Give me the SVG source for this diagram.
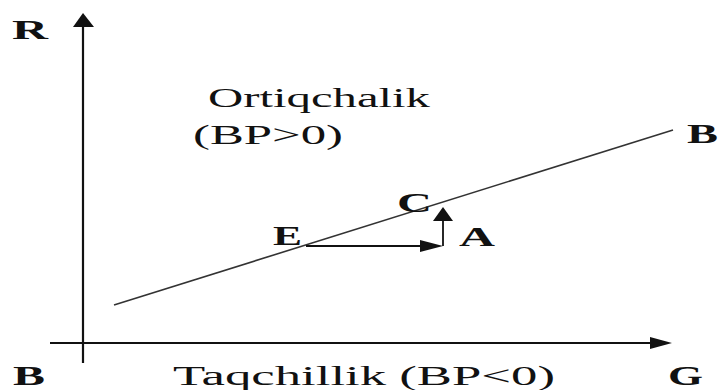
<svg xmlns="http://www.w3.org/2000/svg" width="720" height="390" viewBox="0 0 720 390">
<style>
.lbl{font-family:"Liberation Serif","Times New Roman",serif;font-size:28px;fill:#111}
.b{font-weight:bold}
.ax{stroke:#111;stroke-width:2.2;fill:none}
.ln{stroke:#333;stroke-width:1.6;fill:none}
.ar{stroke:#111;stroke-width:1.8;fill:none}
.hd{fill:#111}
</style>
<rect width="720" height="390" fill="#fff"/>
<g id="connectors">
  <line class="ax" x1="83" y1="363" x2="83" y2="26"/>
  <polygon class="hd" points="83,13 73,27 94,27"/>
  <line class="ax" x1="50" y1="343" x2="652" y2="343"/>
  <polygon class="hd" points="672,343 650,337 650,349"/>
  <line class="ln" x1="114" y1="305" x2="673" y2="130"/>
  <line class="ar" x1="306" y1="246" x2="424" y2="246"/>
  <polygon class="hd" points="443,246 420,240 420,252"/>
  <line class="ar" x1="443" y1="246" x2="443" y2="220"/>
  <polygon class="hd" points="443,207 433,221 453,221"/>
</g>
<g id="label-R"><text class="lbl b" x="12" y="39" textLength="36" lengthAdjust="spacingAndGlyphs">R</text></g>
<g id="label-ortiqchalik">
  <text class="lbl" x="208" y="107" textLength="222" lengthAdjust="spacingAndGlyphs">Ortiqchalik</text>
  <text class="lbl" x="193" y="144" textLength="150" lengthAdjust="spacingAndGlyphs">(BP&gt;0)</text>
</g>
<g id="label-B-line"><text class="lbl b" x="687" y="143" textLength="31" lengthAdjust="spacingAndGlyphs">B</text></g>
<g id="label-E"><text class="lbl b" x="273" y="245" textLength="29" lengthAdjust="spacingAndGlyphs">E</text></g>
<g id="label-C"><text class="lbl b" x="397" y="212" textLength="35" lengthAdjust="spacingAndGlyphs">C</text></g>
<g id="label-A"><text class="lbl b" x="459" y="246" textLength="36" lengthAdjust="spacingAndGlyphs">A</text></g>
<g id="label-B-origin"><text class="lbl b" x="13" y="385" textLength="32" lengthAdjust="spacingAndGlyphs">B</text></g>
<g id="label-taqchillik"><text class="lbl" x="173" y="385" textLength="382" lengthAdjust="spacingAndGlyphs">Taqchillik (BP&lt;0)</text></g>
<g id="label-G"><text class="lbl b" x="668" y="385" textLength="35" lengthAdjust="spacingAndGlyphs">G</text></g>
</svg>
